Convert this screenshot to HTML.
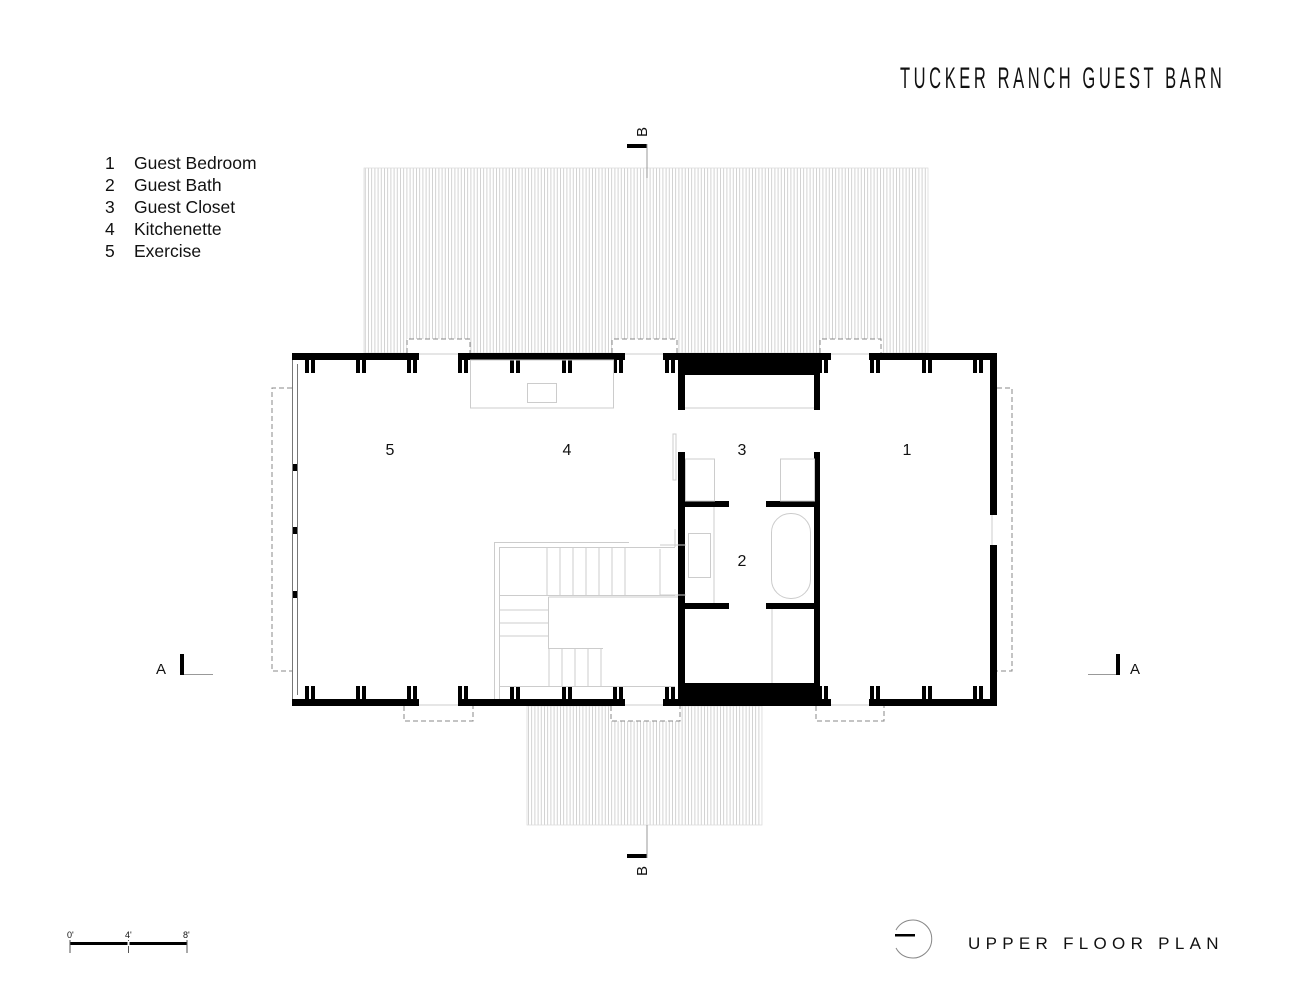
<!DOCTYPE html>
<html><head><meta charset="utf-8"><style>
html,body{margin:0;padding:0;background:#fff;}
svg{display:block;}
text{font-family:"Liberation Sans",sans-serif;fill:#111;}
</style></head><body>
<svg width="1294" height="1000" viewBox="0 0 1294 1000" xmlns="http://www.w3.org/2000/svg">
<defs>
<pattern id="deck" width="3.2" height="10" patternUnits="userSpaceOnUse">
<line x1="0.5" y1="0" x2="0.5" y2="10" stroke="#c8c8c8" stroke-width="0.8"/>
</pattern>
</defs>
<rect width="1294" height="1000" fill="#fff"/>

<!-- Title -->
<text transform="translate(900,88) scale(0.55,1)" font-size="30" textLength="585" lengthAdjust="spacing">TUCKER RANCH GUEST BARN</text>

<!-- Legend -->
<g font-size="17.5">
<text x="105" y="169">1</text><text x="134" y="169">Guest Bedroom</text>
<text x="105" y="191">2</text><text x="134" y="191">Guest Bath</text>
<text x="105" y="213">3</text><text x="134" y="213">Guest Closet</text>
<text x="105" y="235">4</text><text x="134" y="235">Kitchenette</text>
<text x="105" y="257">5</text><text x="134" y="257">Exercise</text>
</g>

<!-- decks -->
<rect x="364" y="168" width="564" height="185" fill="url(#deck)"/>
<rect x="364" y="168" width="564" height="185" fill="none" stroke="#ddd" stroke-width="0.8"/>
<rect x="527" y="706" width="235" height="119" fill="url(#deck)"/>
<rect x="527" y="706" width="235" height="119" fill="none" stroke="#ddd" stroke-width="0.8"/>

<!-- interior white -->
<rect x="292" y="353" width="705" height="353" fill="#fff"/>

<!-- dashed rects -->
<g fill="#fff" stroke="#888" stroke-width="1" stroke-dasharray="5,3">
<path d="M407 353 V339 H470 V353"/>
<path d="M612 353 V339 H677 V353"/>
<path d="M820 353 V339 H881 V353"/>
<path d="M404 706 V721 H473 V706"/>
<path d="M611 706 V721 H680 V706"/>
<path d="M816 706 V721 H884 V706"/>
<path d="M292 388 H272 V671 H292"/>
<path d="M997 388 H1012 V671 H997"/>
</g>
<g stroke="#ccc" stroke-width="1">
<line x1="419" y1="354" x2="458" y2="354"/>
<line x1="625" y1="354" x2="663" y2="354"/>
<line x1="831" y1="354" x2="869" y2="354"/>
<line x1="419" y1="705" x2="458" y2="705"/>
<line x1="625" y1="705" x2="663" y2="705"/>
<line x1="831" y1="705" x2="869" y2="705"/>
<line x1="992" y1="515" x2="992" y2="545"/>
</g>

<!-- walls -->
<g fill="#000">
<rect x="292" y="353" width="127" height="7"/>
<rect x="458" y="353" width="167" height="7"/>
<rect x="663" y="353" width="168" height="7"/>
<rect x="869" y="353" width="128" height="7"/>
<rect x="292" y="699" width="127" height="7"/>
<rect x="458" y="699" width="167" height="7"/>
<rect x="663" y="699" width="168" height="7"/>
<rect x="869" y="699" width="128" height="7"/>
<rect x="990" y="353" width="7" height="162"/>
<rect x="990" y="545" width="7" height="161"/>
<rect x="678" y="360" width="140" height="15"/>
<rect x="678" y="360" width="7" height="50"/>
<rect x="814" y="360" width="6" height="50"/>
<rect x="678" y="452" width="7" height="254"/>
<rect x="814" y="452" width="6" height="254"/>
<rect x="678" y="683" width="140" height="23"/>
<rect x="685" y="501" width="44" height="6"/>
<rect x="766" y="501" width="48" height="6"/>
<rect x="685" y="603" width="44" height="6"/>
<rect x="766" y="603" width="48" height="6"/>
<rect x="292" y="464" width="6" height="7"/>
<rect x="292" y="527" width="6" height="7"/>
<rect x="292" y="591" width="6" height="7"/>
</g>
<g stroke="#777" stroke-width="1" fill="none">
<line x1="292.5" y1="360" x2="292.5" y2="699"/>
<line x1="297.5" y1="364" x2="297.5" y2="695"/>
</g>

<!-- posts -->
<g fill="#000">
<g id="pt">
<rect x="305" y="360" width="4" height="13"/><rect x="311" y="360" width="4" height="13"/>
<rect x="356" y="360" width="4" height="13"/><rect x="362" y="360" width="4" height="13"/>
<rect x="407" y="360" width="4" height="13"/><rect x="413" y="360" width="4" height="13"/>
<rect x="458" y="360" width="4" height="13"/><rect x="464" y="360" width="4" height="13"/>
<rect x="510" y="360" width="4" height="13"/><rect x="516" y="360" width="4" height="13"/>
<rect x="562" y="360" width="4" height="13"/><rect x="568" y="360" width="4" height="13"/>
<rect x="613" y="360" width="4" height="13"/><rect x="619" y="360" width="4" height="13"/>
<rect x="665" y="360" width="4" height="13"/><rect x="671" y="360" width="4" height="13"/>
<rect x="818" y="360" width="4" height="13"/><rect x="824" y="360" width="4" height="13"/>
<rect x="870" y="360" width="4" height="13"/><rect x="876" y="360" width="4" height="13"/>
<rect x="922" y="360" width="4" height="13"/><rect x="928" y="360" width="4" height="13"/>
<rect x="973" y="360" width="4" height="13"/><rect x="979" y="360" width="4" height="13"/>
</g>
<use href="#pt" y="326"/>
</g>

<g fill="none" stroke="#ccc" stroke-width="1">
<rect x="470.5" y="360" width="143" height="48"/>
<rect x="527.5" y="383.5" width="29" height="19"/>
<line x1="685" y1="408" x2="814" y2="408"/>
<rect x="685.5" y="459" width="29" height="42"/>
<rect x="780.5" y="459" width="34" height="42"/>
<rect x="771.5" y="513.5" width="39" height="85" rx="19"/>
<rect x="688.5" y="533.5" width="22" height="44"/>
<line x1="714" y1="507" x2="714" y2="603"/>
<line x1="772" y1="609" x2="772" y2="683"/>
<rect x="673" y="434" width="3" height="46"/>
<path d="M494.5 699 V542.5 H629"/>
<path d="M499.5 699 V547.5 H675"/>
<line x1="675" y1="529" x2="675" y2="547"/>
<path d="M547 547 V595 M560 547 V595 M573 547 V595 M586 547 V595 M599 547 V595 M612 547 V595 M625 547 V595"/>
<line x1="500" y1="595.5" x2="675" y2="595.5"/>
<path d="M548.5 597 H678 M548.5 597 V648.5 H603"/>
<path d="M500 610 H548 M500 623 H548 M500 636 H548"/>
<path d="M549 648 V686 M562 648 V686 M575 648 V686 M588 648 V686 M601 648 V686"/>
<line x1="500" y1="686.5" x2="675" y2="686.5"/>
<line x1="660" y1="549" x2="660" y2="595"/>
<path d="M660 545 H686 M660 595 H686"/>
</g>

<g font-size="16" text-anchor="middle">
<text x="390" y="455">5</text>
<text x="567" y="455">4</text>
<text x="742" y="455">3</text>
<text x="907" y="455">1</text>
<text x="742" y="566">2</text>
</g>

<rect x="627" y="144" width="20" height="4" fill="#000"/>
<line x1="647" y1="144" x2="647" y2="178" stroke="#999" stroke-width="1"/>
<text x="0" y="0" font-size="15" transform="translate(647,137) rotate(-90)">B</text>
<rect x="627" y="854" width="20" height="4" fill="#000"/>
<line x1="647" y1="825" x2="647" y2="858" stroke="#999" stroke-width="1"/>
<text x="0" y="0" font-size="15" transform="translate(647,876) rotate(-90)">B</text>

<rect x="180" y="654" width="4" height="21" fill="#000"/>
<line x1="184" y1="674.5" x2="213" y2="674.5" stroke="#999" stroke-width="1"/>
<text x="156" y="674" font-size="15">A</text>
<rect x="1116" y="654" width="4" height="21" fill="#000"/>
<line x1="1088" y1="674.5" x2="1116" y2="674.5" stroke="#999" stroke-width="1"/>
<text x="1130" y="674" font-size="15">A</text>

<rect x="70" y="942" width="117" height="3" fill="#000"/>
<g stroke="#555" stroke-width="1">
<line x1="70" y1="940" x2="70" y2="953"/>
<line x1="128.5" y1="940" x2="128.5" y2="953"/>
<line x1="187" y1="940" x2="187" y2="953"/>
</g>
<rect x="127.5" y="941" width="2" height="5" fill="#fff"/>
<g font-size="9" fill="#333"><text x="67" y="938">0'</text><text x="125" y="938">4'</text><text x="183" y="938">8'</text></g>

<path d="M896 930 A19 19 0 1 1 896 948" fill="none" stroke="#888" stroke-width="1"/>
<rect x="895" y="934" width="20" height="2.5" fill="#000"/>
<text x="968" y="949" font-size="17" letter-spacing="5.3">UPPER FLOOR PLAN</text>
</svg>
</body></html>
